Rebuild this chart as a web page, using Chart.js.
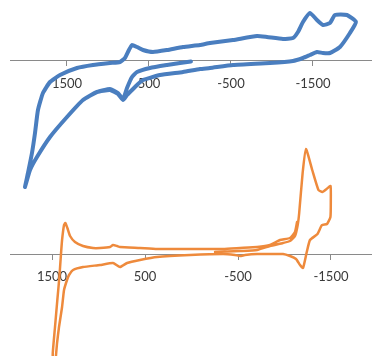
<!DOCTYPE html>
<html>
<head>
<meta charset="utf-8">
<script src="https://cdn.jsdelivr.net/npm/chart.js@4/dist/chart.umd.min.js"></script>
<style>
  html, body { margin: 0; padding: 0; background: #ffffff; }
  #wrap { position: relative; width: 372px; height: 356px; overflow: hidden; }
  .panel { position: absolute; left: 0; }
  #cvTop { top: 0; }
  #cvBottom { top: 140px; }
</style>
</head>
<body>
<div id="wrap">
  <canvas id="cvTop" class="panel" width="372" height="200"></canvas>
  <canvas id="cvBottom" class="panel" width="372" height="216"></canvas>
</div>
<script>
// Potential ticks (mV), shown with the axis reversed
const tickValues = [1500, 500, -500, -1500];
const tickLabels = ['1500', '500', '-500', '-1500'];

// Upper voltammogram: potential (mV) and current (µA), in sweep order
const bluePotential = [
  -12, 122, 280, 488, 646, 707, 768, 817, 878, 976, 1134, 1305, 1500, 1707, 1866, 1951, 2012,
  1976, 1927, 1890, 1854, 1793, 1707, 1585, 1378, 1183, 976, 854, 793, 744, 707, 646, 573, 451,
  280, 85, -122, -244, -524, -817, -939, -1134, -1256, -1317, -1378, -1463, -1549, -1622,
  -1707, -1768, -1915, -2024,
  -1951, -1829, -1707, -1622, -1549, -1463, -1378, -1256, -976, -524, -244, -122, 85, 366, 573,
  646, 707, 768, 817, 878, 976, 1134, 1305, 1500, 1707, 1866, 1951, 2012
];
const blueCurrent = [
  -0.05, -0.2, -0.4, -0.7, -1.1, -1.6, -2.7, -3.8, -3.2, -2.8, -3.1, -3.9, -5.6, -7.6, -9.6, -10.9, -12.6,
  -11.2, -9.2, -7.2, -4.9, -3.2, -2.1, -1.4, -0.7, -0.4, -0.2, -0.1, 0.3, 1.1, 1.6, 1.4, 1.1, 0.9,
  1.1, 1.4, 1.6, 1.8, 2.1, 2.5, 2.4, 2.2, 2.3, 2.9, 3.9, 4.8, 4.1, 3.6,
  3.8, 4.6, 4.6, 3.9,
  2.8, 1.4, 0.8, 0.8, 0.9, 0.6, 0.3, 0.0, -0.2, -0.4, -0.7, -0.8, -1.1, -1.4, -1.9,
  -2.4, -2.9, -3.4, -3.9, -3.3, -2.9, -3.1, -3.9, -5.6, -7.6, -9.6, -10.9, -12.6
];

// Lower voltammogram: potential (mV) and current (µA), in sweep order
const orangePotential = [
  -253, -522, -705, -844, -984, -1059, -1113, -1142, -1158, -1195, -1231, -1298, -1365, -1407,
  -1453, -1495, -1498, -1494, -1457, -1403, -1355, -1274, -1237, -1199, -1167, -1124, -1059,
  -984, -844, -705, -575, -522, -468, -339, 16, 371, 554, 693, 769, 844, 984, 1167, 1274,
  1317, 1339, 1371, 1392, 1425, 1446, 1457, 1473, 1489, 1492, 1468, 1443, 1421, 1406, 1392,
  1371, 1357, 1335, 1306, 1253, 1167, 1059, 984, 876, 844, 801, 769, 554, 371, 16, -339,
  -522, -705, -844, -952, -1059, -1113, -1135
];
const orangeCurrent = [
  0.2, 0.3, 0.4, 0.8, 1.1, 1.3, 1.8, 2.9, 4.1, 8.1, 10.5, 8.4, 6.4, 6.2, 6.5, 6.8, 5.4, 3.7,
  3.0, 2.9, 2.0, 1.4, 0.1, -1.4, -1.1, -0.5, -0.2, 0.0, 0.0, 0.0, -0.1, -0.2, -0.1, 0.0,
  -0.1, -0.3, -0.6, -0.9, -1.3, -0.9, -1.1, -1.3, -1.6, -2.1, -2.6, -3.6, -5.3, -7.3, -8.9,
  -10.1, -12.2, -10.8, -9.9, -7.3, -4.6, -2.3, -0.3, 1.4, 2.9, 3.1, 2.6, 1.8, 1.2, 0.8, 0.6,
  0.6, 0.7, 0.9, 0.8, 0.7, 0.6, 0.5, 0.5, 0.5, 0.6, 0.7, 0.9, 1.4, 1.6, 2.2, 3.2
];

const toPoints = (xs, ys) => xs.map((x, i) => ({ x: x, y: ys[i] }));

function makePanel(canvasId, potential, current, color, width, range) {
  return new Chart(document.getElementById(canvasId), {
    type: 'scatter',
    data: {
      datasets: [{
        data: toPoints(potential, current),
        showLine: true,
        borderColor: color,
        borderWidth: width,
        pointRadius: 0,
        tension: 0.15,
        borderJoinStyle: 'round',
        borderCapStyle: 'round',
        fill: false
      }]
    },
    options: {
      responsive: false,
      animation: false,
      events: [],
      layout: { padding: { left: 10, right: 0, top: 0, bottom: 0 } },
      plugins: { legend: { display: false }, tooltip: { enabled: false } },
      scales: {
        x: {
          type: 'linear',
          reverse: true,
          min: range.xMin,
          max: range.xMax,
          position: { y: 0 },
          afterFit: (scale) => { scale.height = 0; },
          afterBuildTicks: (scale) => { scale.ticks = tickValues.map(v => ({ value: v })); },
          border: { display: true, color: '#8a8a8a', width: 1 },
          grid: { display: true, drawOnChartArea: false, drawTicks: true, tickLength: 5, tickColor: '#8a8a8a' },
          ticks: {
            autoSkip: false,
            maxRotation: 0,
            padding: 10,
            color: '#3a3a3a',
            font: { family: 'Lato', size: 13 },
            callback: (value, index) => tickLabels[index]
          }
        },
        y: {
          type: 'linear',
          display: false,
          min: range.yMin,
          max: range.yMax
        }
      }
    }
  });
}

makePanel('cvTop', bluePotential, blueCurrent, '#4a7ebf', 4,
  { xMin: -2220, xMax: 2195, yMin: -13.9, yMax: 6.1 });
makePanel('cvBottom', orangePotential, orangeCurrent, '#ee8a3c', 2.5,
  { xMin: -1941, xMax: 1952, yMin: -10.2, yMax: 11.4 });
</script>
</body>
</html>
